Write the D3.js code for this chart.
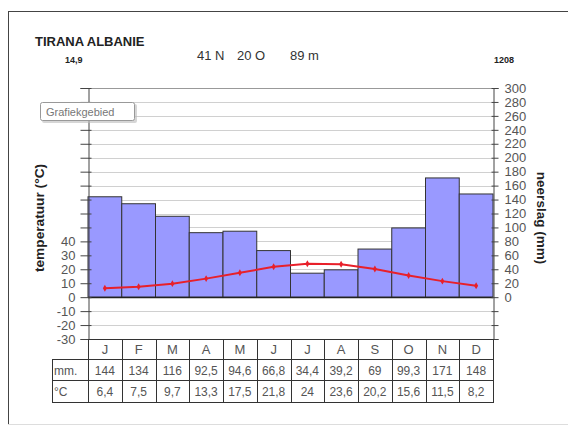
<!DOCTYPE html>
<html><head><meta charset="utf-8">
<script src="https://cdn.jsdelivr.net/npm/d3@7"></script>
<style>body{margin:0;background:#fff;}svg{display:block;font-family:"Liberation Sans",Arial,sans-serif;}</style>
</head><body><svg id="c" width="568" height="426"></svg>
<script>
const months = ["J","F","M","A","M","J","J","A","S","O","N","D"];
const precip = [144,134,116,92.5,94.6,66.8,34.4,39.2,69,99.3,171,148];
const temps = [6.4,7.5,9.7,13.3,17.5,21.8,24,23.6,20.2,15.6,11.5,8.2];
const mmTicks = [0,20,40,60,80,100,120,140,160,180,200,220,240,260,280,300];
const tempTicks = [-30,-20,-10,0,10,20,30,40];
const title = "TIRANA ALBANIE";
const coordParts = ["41 N", "20 O", "89 m"];
const meanTemp = "14,9";
const totalPrecip = "1208";

const svg = d3.select("#c");
const fmt = v => String(v).replace(".", ",");

// frame
svg.append("line").attr("x1",8.5).attr("x2",8.5).attr("y1",11).attr("y2",424).attr("stroke","#444");
svg.append("line").attr("x1",8).attr("x2",568).attr("y1",11.5).attr("y2",11.5).attr("stroke","#444");
svg.append("line").attr("x1",8).attr("x2",568).attr("y1",424.5).attr("y2",424.5).attr("stroke","#ddd");

const L = 88, R = 493;
const x = d3.scaleBand().domain(d3.range(12)).range([L, R]).padding(0);
const y = d3.scaleLinear().domain([-60, 300]).range([339, 88]);
const yT = d3.scaleLinear().domain([-30, 150]).range([339, 88]);

// gridlines
const grid = d3.range(-60, 301, 20);
svg.append("g").selectAll("line").data(grid).join("line")
  .attr("x1", L).attr("x2", R)
  .attr("y1", d => Math.round(y(d)) + 0.5).attr("y2", d => Math.round(y(d)) + 0.5)
  .attr("stroke", d => d === 300 ? "#999" : "#d0d0d0").attr("stroke-width", 1);

// bars
svg.append("g").selectAll("rect").data(precip).join("rect")
  .attr("x", (d, i) => x(i)).attr("width", x.bandwidth())
  .attr("y", d => y(d)).attr("height", d => y(0) - y(d))
  .attr("fill", "#9999ff").attr("stroke", "#333").attr("stroke-width", 1);

// zero line
svg.append("line").attr("x1", L).attr("x2", R)
  .attr("y1", Math.round(y(0)) + 0.5).attr("y2", Math.round(y(0)) + 0.5)
  .attr("stroke", "#222").attr("stroke-width", 1.3);

// left axis
const leftAxis = d3.axisLeft(yT).tickValues(d3.range(-30, 151, 10)).tickSize(8)
  .tickFormat(d => tempTicks.includes(d) ? d : "");
const gl = svg.append("g").attr("transform", `translate(${L + 0.5},0)`).call(leftAxis);
gl.select(".domain").attr("stroke", "#444");
gl.selectAll(".tick line").attr("stroke", "#444").attr("x2", -8).attr("x1", 3);
gl.selectAll("text").attr("font-size", 13).attr("fill", "#555").attr("x", -13)
  .attr("font-family", "Liberation Sans, Arial, sans-serif");

// right axis
const rightAxis = d3.axisRight(y).tickValues(d3.range(-60, 301, 20)).tickSize(5)
  .tickFormat(d => mmTicks.includes(d) ? d : "");
const gr = svg.append("g").attr("transform", `translate(${R + 0.5},0)`).call(rightAxis);
gr.select(".domain").attr("stroke", "#444");
gr.selectAll(".tick line").attr("stroke", "#444").attr("x1", -2);
gr.selectAll("text").attr("font-size", 13).attr("fill", "#555").attr("x", 11)
  .attr("font-family", "Liberation Sans, Arial, sans-serif");

// temperature line (on mm scale, 1 °C = 2 mm)
const line = d3.line().x((d, i) => x(i) + x.bandwidth() / 2).y(d => yT(d));
svg.append("path").datum(temps).attr("d", line).attr("fill", "none")
  .attr("stroke", "#e8202a").attr("stroke-width", 2);
svg.append("g").selectAll("path").data(temps).join("path")
  .attr("transform", (d, i) => `translate(${x(i) + x.bandwidth() / 2},${yT(d)})`)
  .attr("d", d3.symbol(d3.symbolDiamond, 14)).attr("fill", "#e8202a");

// table
const rowTop = 339, rowH = [20, 21, 22];
const rows = [rowTop, rowTop + rowH[0], rowTop + rowH[0] + rowH[1], rowTop + rowH[0] + rowH[1] + rowH[2]];
const tb = svg.append("g").attr("font-size", 12).attr("fill", "#333");
tb.append("line").attr("x1", L).attr("x2", R).attr("y1", rows[0] + 0.5).attr("y2", rows[0] + 0.5).attr("stroke", "#333");
[1, 2, 3].forEach(k => tb.append("line").attr("x1", 52).attr("x2", R + 1).attr("y1", rows[k] + 0.5).attr("y2", rows[k] + 0.5).attr("stroke", "#333"));
d3.range(13).forEach(i => {
  const xx = Math.round(i < 12 ? x(i) : R) + 0.5;
  tb.append("line").attr("x1", xx).attr("x2", xx).attr("y1", rows[0]).attr("y2", rows[3]).attr("stroke", "#333");
});
tb.append("line").attr("x1", 52.5).attr("x2", 52.5).attr("y1", rows[1]).attr("y2", rows[3]).attr("stroke", "#333");
tb.selectAll("text.m").data(months).join("text").attr("class", "m")
  .attr("x", (d, i) => x(i) + x.bandwidth() / 2).attr("y", rows[0] + 15)
  .attr("text-anchor", "middle").attr("fill", "#555").attr("font-size", 13).text(d => d);
tb.selectAll("text.p").data(precip).join("text").attr("class", "p")
  .attr("x", (d, i) => x(i) + x.bandwidth() / 2).attr("y", rows[1] + 16)
  .attr("text-anchor", "middle").attr("fill", "#555").text(d => fmt(d));
tb.selectAll("text.t").data(temps).join("text").attr("class", "t")
  .attr("x", (d, i) => x(i) + x.bandwidth() / 2).attr("y", rows[2] + 16)
  .attr("text-anchor", "middle").attr("fill", "#555").text(d => fmt(d));
tb.append("text").attr("x", 54).attr("y", rows[1] + 16).attr("fill", "#555").text("mm.");
tb.append("text").attr("x", 54).attr("y", rows[2] + 16).attr("fill", "#555").text("°C");

// axis titles
svg.append("text").attr("transform", "translate(44,218) rotate(-90)").attr("text-anchor", "middle")
  .attr("font-size", 13.7).attr("font-weight", "bold").attr("fill", "#222").text("temperatuur (°C)");
svg.append("text").attr("transform", "translate(537,218) rotate(90)").attr("text-anchor", "middle")
  .attr("font-size", 13.5).attr("font-weight", "bold").attr("fill", "#222").text("neerslag (mm)");

// header texts
svg.append("text").attr("x", 35).attr("y", 46).attr("font-size", 13).attr("font-weight", "bold").attr("fill", "#222").text(title);
svg.append("text").attr("x", 65).attr("y", 63).attr("font-size", 9).attr("font-weight", "bold").attr("fill", "#222").text(meanTemp);
const coordX = [197, 237, 290];
svg.append("g").selectAll("text").data(coordParts).join("text")
  .attr("x", (d, i) => coordX[i]).attr("y", 60).attr("font-size", 13).attr("fill", "#333").text(d => d);
svg.append("text").attr("x", 494).attr("y", 63).attr("font-size", 9).attr("font-weight", "bold").attr("fill", "#222").text(totalPrecip);

// tooltip "Grafiekgebied"
const tip = svg.append("g");
tip.append("rect").attr("x", 42).attr("y", 104).attr("width", 95).attr("height", 19).attr("rx", 2).attr("fill", "#bbb").attr("opacity", 0.6);
tip.append("rect").attr("x", 40.5).attr("y", 102.5).attr("width", 94).attr("height", 18).attr("rx", 2).attr("fill", "#fff").attr("stroke", "#999");
tip.append("text").attr("x", 46).attr("y", 116).attr("font-size", 11).attr("fill", "#777").text("Grafiekgebied");
</script></body></html>
